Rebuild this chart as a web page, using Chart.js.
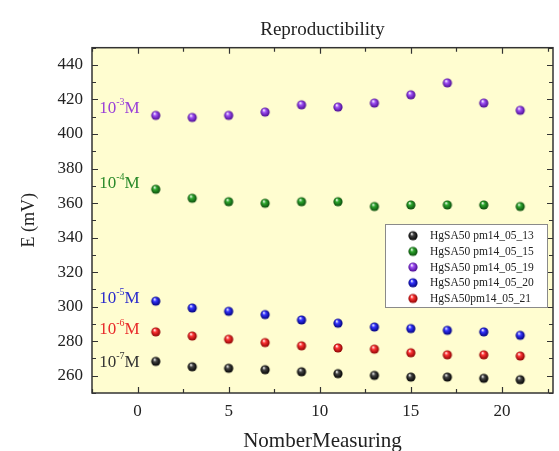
<!DOCTYPE html>
<html><head><meta charset="utf-8">
<script src="https://cdn.jsdelivr.net/npm/chart.js@4/dist/chart.umd.min.js"></script>
<style>html,body{margin:0;padding:0;background:#fff}#wrap{width:559px;height:451px}</style>
</head><body><div id="wrap"><canvas id="c" width="559" height="451"></canvas></div>
<script>
// ---- data ----
const measurements = [1, 3, 5, 7, 9, 11, 13, 15, 17, 19, 21];
const seriesNames = ['HgSA50 pm14_05_13', 'HgSA50 pm14_05_15', 'HgSA50 pm14_05_19', 'HgSA50 pm14_05_20', 'HgSA50pm14_05_21'];
const e13 = [268.3, 265.2, 264.3, 263.5, 262.3, 261.2, 260.2, 259.2, 259.2, 258.5, 257.7];
const e15 = [368.0, 362.8, 360.8, 359.9, 360.8, 360.8, 358.0, 358.9, 358.9, 358.9, 358.0];
const e19 = [410.8, 409.6, 410.8, 412.7, 416.9, 415.6, 417.9, 422.7, 429.6, 417.9, 413.7];
const e20 = [303.2, 299.2, 297.3, 295.4, 292.3, 290.4, 288.2, 287.3, 286.3, 285.4, 283.4];
const e21 = [285.4, 283.0, 281.1, 279.2, 277.3, 276.1, 275.4, 273.3, 272.1, 272.1, 271.4];
const concExponents = ['-7', '-4', '-3', '-5', '-6'];
const xTickValues = [0, 5, 10, 15, 20];
const yTickValues = [260, 280, 300, 320, 340, 360, 380, 400, 420, 440];

// ---- styles ----
const FONT = 'Liberation Serif';
const markerColors = [['#444444', '#000000'], ['#2ea82e', '#0a4a0a'], ['#a050f5', '#4a0a90'], ['#3535ff', '#00007a'], ['#ff3535', '#8a0000']];
const labelColors = ['#333333', '#2a8a2a', '#9a40d8', '#2a2acc', '#e82a2a'];
// annotation anchors (axis units) for concentration labels
const concAnchorX = -2.1;
const concAnchorY = [267.7, 371.4, 414.8, 304.8, 286.9];

function sphere(color, dark, r) {
  const s = Math.ceil(r * 2) + 2;
  const c = document.createElement('canvas');
  c.width = c.height = s;
  const g = c.getContext('2d');
  const cx = s / 2, cy = s / 2;
  const grd = g.createRadialGradient(cx - r * 0.3, cy - r * 0.45, r * 0.05, cx, cy, r);
  grd.addColorStop(0, '#ffffff');
  grd.addColorStop(0.35, color);
  grd.addColorStop(1, dark);
  g.fillStyle = grd;
  g.beginPath(); g.arc(cx, cy, r, 0, Math.PI * 2); g.fill();
  return c;
}
const sprites = markerColors.map(c => sphere(c[0], c[1], 4.6));
const allSeries = [e13, e15, e19, e20, e21];

const datasets = allSeries.map((vals, i) => ({
  label: seriesNames[i],
  data: measurements.map((x, k) => ({ x: x, y: vals[k] })),
  showLine: false,
  pointStyle: sprites[i],
  pointRadius: 5,
  backgroundColor: markerColors[i][0],
  borderColor: markerColors[i][0]
}));

const A = { left: 92, right: 556, top: 47.7, bottom: 393 };

const decor = {
  id: 'decor',
  beforeDraw(chart) {
    const { ctx, chartArea: a } = chart;
    ctx.save();
    ctx.fillStyle = '#FFFDD0';
    ctx.fillRect(a.left, a.top, a.right - a.left, a.bottom - a.top);
    ctx.restore();
  },
  afterDraw(chart) {
    const { ctx, chartArea: a } = chart;
    const xs = chart.scales.x, ys = chart.scales.y;
    ctx.save();
    ctx.strokeStyle = '#333333';
    ctx.lineWidth = 1.5;
    ctx.strokeRect(a.left, a.top, a.right - a.left, a.bottom - a.top);
    ctx.lineWidth = 1.2;
    ctx.beginPath();
    for (let v = -2.5; v <= xs.max + 1e-6; v += 2.5) {
      if (v < xs.min - 1e-6) continue;
      const px = Math.round(xs.getPixelForValue(v)) + 0.5;
      const L = (Math.abs(v % 5) < 1e-6) ? 6 : 4;
      ctx.moveTo(px, a.bottom); ctx.lineTo(px, a.bottom - L);
      ctx.moveTo(px, a.top); ctx.lineTo(px, a.top + L);
    }
    for (let v = 250; v <= ys.max; v += 10) {
      const py = Math.round(ys.getPixelForValue(v)) + 0.5;
      const L = (v % 20 === 0) ? 6 : 4;
      ctx.moveTo(a.left, py); ctx.lineTo(a.left + L, py);
      ctx.moveTo(a.right, py); ctx.lineTo(a.right - L, py);
    }
    ctx.stroke();

    // concentration labels
    ctx.textBaseline = 'middle';
    ctx.textAlign = 'left';
    concExponents.forEach((ex, i) => {
      let x = xs.getPixelForValue(concAnchorX);
      const y = ys.getPixelForValue(concAnchorY[i]);
      ctx.fillStyle = labelColors[i];
      ctx.font = '17px "' + FONT + '"';
      ctx.fillText('10', x, y);
      x += ctx.measureText('10').width;
      ctx.font = '10px "' + FONT + '"';
      ctx.fillText(ex, x, y - 6);
      x += ctx.measureText(ex).width;
      ctx.font = '17px "' + FONT + '"';
      ctx.fillText('M', x, y);
    });

    // legend box
    const bx = 385, by = 224, bw = 162, bh = 83;
    ctx.fillStyle = '#ffffff';
    ctx.fillRect(bx, by, bw, bh);
    ctx.strokeStyle = '#8a8a8a';
    ctx.lineWidth = 1;
    ctx.strokeRect(bx + 0.5, by + 0.5, bw, bh);
    ctx.font = '11.5px "' + FONT + '"';
    ctx.fillStyle = '#222222';
    chart.data.datasets.forEach((ds, i) => {
      const ry = by + 11.7 + i * 15.7;
      const sp = sprites[i];
      ctx.drawImage(sp, 413 - sp.width / 2, ry - sp.height / 2);
      ctx.fillStyle = '#222222';
      ctx.fillText(ds.label, 430, ry + 0.5);
    });
    ctx.restore();
  }
};

new Chart(document.getElementById('c'), {
  type: 'scatter',
  data: { datasets: datasets },
  plugins: [decor],
  options: {
    responsive: false,
    animation: false,
    layout: { padding: { left: 0, right: 3, top: 0, bottom: 0 } },
    plugins: { legend: { display: false }, tooltip: { enabled: false }, title: { display: false } },
    scales: {
      x: {
        type: 'linear', position: 'bottom', min: -2.5, max: 22.8,
        afterBuildTicks: s => { s.ticks = xTickValues.map(v => ({ value: v })); },
        afterFit: s => { s.height = 451 - A.bottom; },
        grid: { display: false, drawTicks: false },
        border: { display: false },
        ticks: { padding: 8, color: '#222', font: { family: FONT, size: 17 } },
        title: { display: true, text: 'NomberMeasuring', color: '#222', font: { family: FONT, size: 21, lineHeight: 1 }, padding: { top: 0, bottom: -1 } }
      },
      x2: {
        type: 'linear', position: 'top', min: -2.5, max: 22.8,
        afterFit: s => { s.height = A.top; },
        grid: { display: false, drawTicks: false },
        border: { display: false },
        ticks: { display: false },
        title: { display: true, text: 'Reproductibility', color: '#222', font: { family: FONT, size: 19, lineHeight: 1 }, padding: { top: 20.5, bottom: 0 } }
      },
      y: {
        type: 'linear', min: 250, max: 450,
        afterBuildTicks: s => { s.ticks = yTickValues.map(v => ({ value: v })); },
        afterFit: s => { s.width = A.left; },
        grid: { display: false, drawTicks: false },
        border: { display: false },
        ticks: { padding: 9, color: '#222', font: { family: FONT, size: 17 } },
        title: { display: true, text: 'E (mV)', color: '#222', font: { family: FONT, size: 18, lineHeight: 1 }, padding: { top: 20, bottom: 0 } }
      }
    }
  }
});
</script>
</body></html>
